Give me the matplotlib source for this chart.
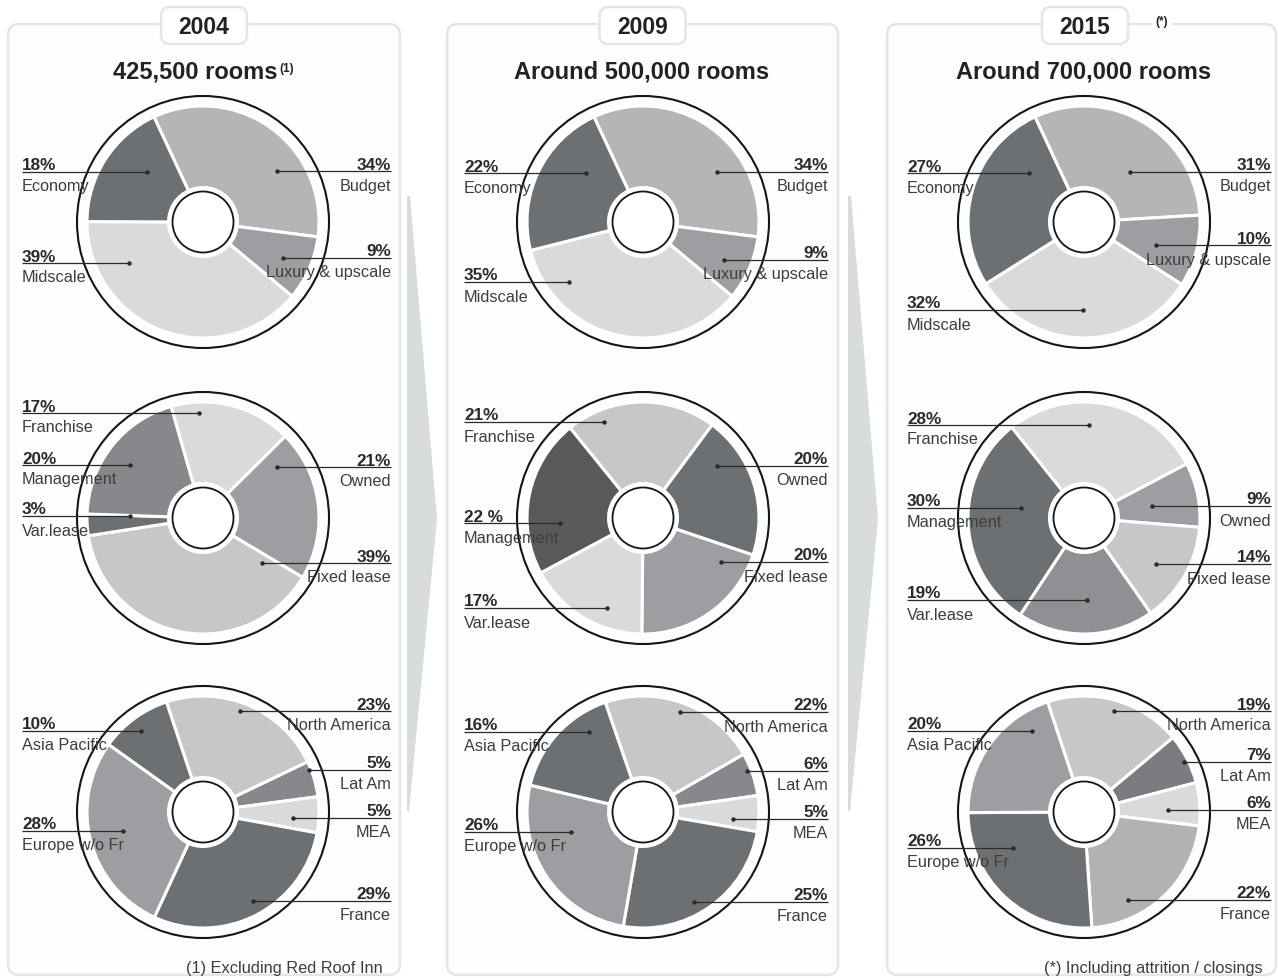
import matplotlib
matplotlib.use("Agg")
import matplotlib.pyplot as plt
from matplotlib.patches import FancyBboxPatch, Circle, Polygon

plt.rcParams['font.family'] = ['Liberation Sans', 'DejaVu Sans']

# ---------------- data ----------------
years = ["2004", "2009", "2015"]
titles = ["425,500 rooms", "Around 500,000 rooms", "Around 700,000 rooms"]

segment_labels = ["Budget", "Luxury & upscale", "Midscale", "Economy"]
segment_2004 = [34, 9, 39, 18]
segment_2009 = [34, 9, 35, 22]
segment_2015 = [31, 10, 32, 27]

ownership_labels = ["Franchise", "Owned", "Fixed lease", "Var.lease", "Management"]
ownership_2004 = [17, 21, 39, 3, 20]
ownership_2009 = [21, 20, 20, 17, 22]
ownership_2015 = [28, 9, 14, 19, 30]

region_labels = ["North America", "Lat Am", "MEA", "France", "Europe w/o Fr", "Asia Pacific"]
region_2004 = [23, 5, 5, 29, 28, 10]
region_2009 = [22, 6, 5, 25, 26, 16]
region_2015 = [19, 7, 6, 22, 26, 20]

footnotes = ["(1) Excluding Red Roof Inn", "", "(*) Including attrition / closings"]

# ---------------- layout / style ----------------
W, H = 1279, 979
panel_cx = [203, 643, 1084]
row_cy = [223, 519, 813]
panel_edges = [(8, 400), (447, 838), (887, 1276)]
tab_cx = [204, 642.5, 1085]
label_left = [22, 464, 907]
label_right = [391, 828, 1271]

C_DARK2 = "#58595b"
C_DARK = "#6d7073"
C_MIDD = "#86888b"
C_MID = "#9c9ea1"
C_MIDL = "#b3b5b7"
C_LIGHT = "#c5c7c9"
C_LIGHTER = "#d8dadb"

# one entry per panel: (values, labels, colours, start angle, label layout)
# label layout entries: (side, leader y, dot x) in pixel coordinates
pies = [
    # segment
    [
        (segment_2004, segment_labels, [C_MIDL, C_MID, C_LIGHTER, C_DARK], 115,
         [("R", 172, 277), ("R", 259, 283), ("L", 264, 129), ("L", 173, 147)]),
        (segment_2009, segment_labels, [C_MIDL, C_MID, C_LIGHTER, C_DARK], 115,
         [("R", 173, 717), ("R", 261, 724), ("L", 283, 569), ("L", 174, 586)]),
        (segment_2015, segment_labels, [C_MIDL, C_MID, C_LIGHTER, C_DARK], 115,
         [("R", 173, 1130), ("R", 246, 1156), ("L", 311, 1083), ("L", 174, 1029)]),
    ],
    # ownership
    [
        (ownership_2004, ownership_labels, [C_LIGHTER, C_MID, C_LIGHT, C_DARK, C_MIDD], 106,
         [("L", 414, 199), ("R", 468, 277), ("R", 564, 262), ("L", 517, 130), ("L", 466, 130)]),
        (ownership_2009, ownership_labels, [C_LIGHT, C_DARK, C_MID, C_LIGHTER, C_DARK2], 129,
         [("L", 423, 604), ("R", 467, 717), ("R", 563, 721), ("L", 609, 607), ("L", 524, 560)]),
        (ownership_2015, ownership_labels, [C_LIGHTER, C_MID, C_LIGHT, "#8e9093", C_DARK], 128.6,
         [("L", 426, 1089), ("R", 507, 1152), ("R", 565, 1156), ("L", 601, 1087), ("L", 509, 1021)]),
    ],
    # regions
    [
        (region_2004, region_labels, [C_LIGHT, C_MIDD, C_LIGHTER, C_DARK, C_MID, C_DARK], 108.4,
         [("R", 712, 240), ("R", 771, 309), ("R", 819, 293), ("R", 902, 253), ("L", 832, 123), ("L", 732, 141)]),
        (region_2009, region_labels, [C_LIGHT, C_MIDD, C_LIGHTER, C_DARK, C_MID, C_DARK], 109,
         [("R", 713, 680), ("R", 772, 747), ("R", 820, 733), ("R", 903, 694), ("L", 833, 571), ("L", 733, 589)]),
        (region_2015, region_labels, [C_LIGHT, "#7a7c7f", C_LIGHTER, "#b0b2b4", C_DARK, C_MID], 108.3,
         [("R", 712, 1114), ("R", 763, 1184), ("R", 811, 1168), ("R", 901, 1128), ("L", 849, 1013), ("L", 732, 1032)]),
    ],
]

pct_overrides = {(1, 1, 4): "22 %"}

R_OUT, R_IN, R_RING, R_HOLE = 116, 34.5, 126, 30.5
PCT_FS = 12.3
NAME_FS = 11.7
TXT = "#2a2a2a"
NAME_C = "#3d3d3d"
BORDER = "#e3e5e6"


def Y(y):
    return H - y


fig = plt.figure(figsize=(W / 100, H / 100), dpi=100)
ax = fig.add_axes([0, 0, 1, 1])

# transition arrows between panels
for x0 in (407, 848):
    ax.add_patch(Polygon([(x0, Y(197)), (x0 + 3, Y(197)), (x0 + 30, Y(520)),
                          (x0 + 2, Y(812)), (x0, Y(812))],
                         closed=True, fc="#d9dcdd", ec="none", zorder=0))

# panel frames, year tabs and titles
for p, (x0, x1) in enumerate(panel_edges):
    ax.add_patch(FancyBboxPatch((x0, Y(976)), x1 - x0, 976 - 25,
                                boxstyle="round,pad=0,rounding_size=11",
                                fc="#fdfdfd", ec=BORDER, lw=1.8, zorder=1))
    cx = tab_cx[p]
    ax.add_patch(FancyBboxPatch((cx - 43, Y(45)), 86, 37,
                                boxstyle="round,pad=0,rounding_size=9",
                                fc="white", ec=BORDER, lw=1.8, zorder=3))
    ax.text(cx, Y(33.5), years[p], ha="center", va="baseline",
            fontsize=16.5, fontweight="bold", color="#222222", zorder=4)

ax.text(277, Y(79), titles[0], ha="right", va="baseline",
        fontsize=17, fontweight="bold", color="#222222", zorder=4)
ax.text(279, Y(72), "(1)", ha="left", va="baseline",
        fontsize=8.5, fontweight="bold", color="#222222", zorder=4)
ax.text(642, Y(79), titles[1], ha="center", va="baseline",
        fontsize=17, fontweight="bold", color="#222222", zorder=4)
ax.text(1084, Y(79), titles[2], ha="center", va="baseline",
        fontsize=17, fontweight="bold", color="#222222", zorder=4)
ax.text(1162, Y(22), "(*)", ha="center", va="center", fontsize=8.5,
        fontweight="bold", color="#222222", zorder=4,
        bbox=dict(fc="white", ec="none", pad=2.5))

# pies
for r, row in enumerate(pies):
    for p, (vals, labels, cols, start, lay) in enumerate(row):
        cx, cy = panel_cx[p], Y(row_cy[r])
        ax.pie(vals, colors=cols, startangle=start, counterclock=False,
               center=(cx, cy), radius=R_OUT,
               wedgeprops=dict(width=R_OUT - R_IN, edgecolor="white",
                               linewidth=2.2, zorder=2))
        ax.add_patch(Circle((cx, cy), R_RING, fill=False, ec="#151515", lw=1.5, zorder=3))
        ax.add_patch(Circle((cx, cy), R_HOLE, fc="white", ec="#151515", lw=1.3, zorder=3))

        lx, rx = label_left[p], label_right[p]
        for i, (v, name) in enumerate(zip(vals, labels)):
            side, ly, dx = lay[i]
            pct = pct_overrides.get((r, p, i), f"{v}%")
            yy = Y(ly)
            if side == "L":
                ax.plot([lx, dx], [yy, yy], color=TXT, lw=0.9, zorder=6,
                        solid_capstyle="butt")
                ax.text(lx, yy + 2.5, pct, ha="left", va="baseline",
                        fontsize=PCT_FS, fontweight="bold", color=TXT, zorder=7)
                ax.text(lx, yy - 6.5, name, ha="left", va="top",
                        fontsize=NAME_FS, color=NAME_C, zorder=7)
            else:
                ax.plot([dx, rx], [yy, yy], color=TXT, lw=0.9, zorder=6,
                        solid_capstyle="butt")
                ax.text(rx, yy + 2.5, pct, ha="right", va="baseline",
                        fontsize=PCT_FS, fontweight="bold", color=TXT, zorder=7)
                ax.text(rx, yy - 6.5, name, ha="right", va="top",
                        fontsize=NAME_FS, color=NAME_C, zorder=7)
            ax.plot([dx], [yy], "o", ms=3.2, color=TXT, mec="none", zorder=7)

# footnotes
ax.text(383, Y(973), footnotes[0], ha="right", va="baseline",
        fontsize=11.8, color=NAME_C, zorder=4)
ax.text(1263, Y(973), footnotes[2], ha="right", va="baseline",
        fontsize=11.8, color=NAME_C, zorder=4)

ax.set_xlim(0, W)
ax.set_ylim(0, H)
ax.set_aspect("equal")
ax.axis("off")
fig.savefig("out.png", dpi=100, facecolor="white")
